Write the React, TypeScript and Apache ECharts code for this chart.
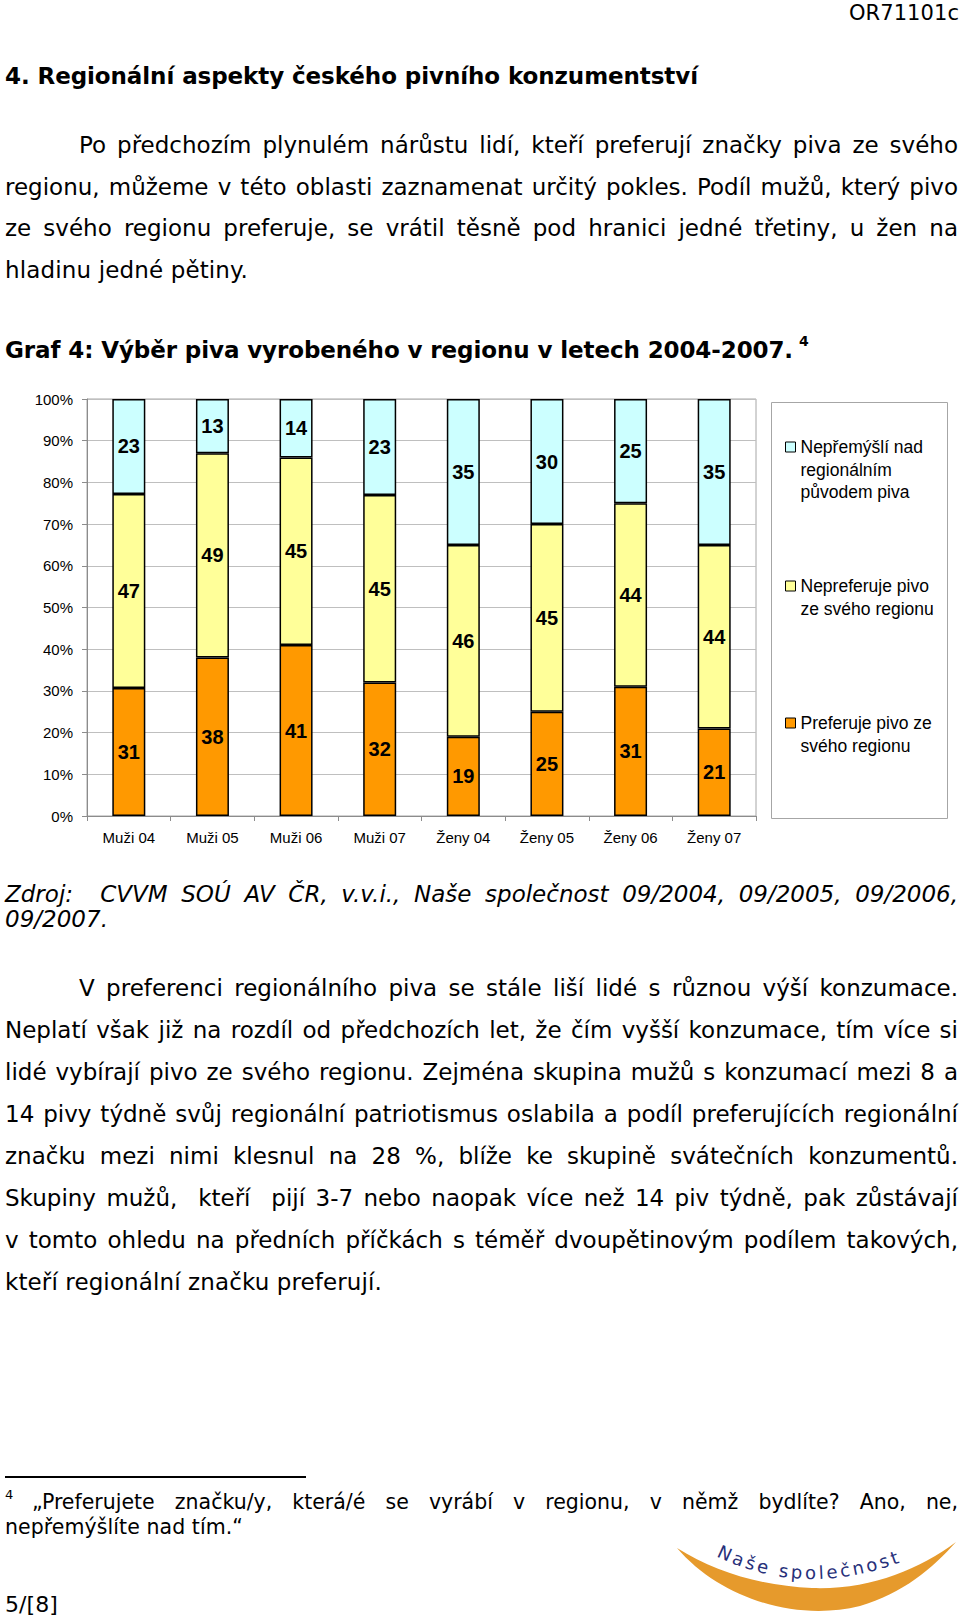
import React, { useEffect, useLayoutEffect, useRef } from "react";
import * as echarts from "echarts";

// ---------- data ----------
const categories = ["Muži 04", "Muži 05", "Muži 06", "Muži 07", "Ženy 04", "Ženy 05", "Ženy 06", "Ženy 07"];
const preferuje = [31, 38, 41, 32, 19, 25, 31, 21];
const nepreferuje = [47, 49, 45, 45, 46, 45, 44, 44];
const nepremysli = [23, 13, 14, 23, 35, 30, 25, 35];
const seriesNames = [
  "Preferuje pivo ze svého regionu",
  "Nepreferuje pivo ze svého regionu",
  "Nepřemýšlí nad regionálním původem piva",
];
const legendLines = [
  ["Preferuje pivo ze", "svého regionu"],
  ["Nepreferuje pivo", "ze svého regionu"],
  ["Nepřemýšlí nad", "regionálním", "původem piva"],
];
const seriesColors = ["#FF9900", "#FFFF99", "#CCFFFF"];
const yTickLabelSuffix = "%";

const BODY = "'DejaVu Sans', Verdana, sans-serif";
const ARIAL = "'Liberation Sans', Arial, sans-serif";

type LineProps = {
  x: number;
  y: number;
  w?: number;
  text: string;
  size?: number;
  lh?: number;
  bold?: boolean;
  italic?: boolean;
  mode?: "justify" | "fit" | "none";
  family?: string;
};

function Line({ x, y, w = 0, text, size = 23, lh = 30, bold, italic, mode = "none", family = BODY }: LineProps) {
  const ref = useRef<HTMLSpanElement>(null);
  useLayoutEffect(() => {
    const adjust = () => {
      const span = ref.current;
      if (!span) return;
      span.style.wordSpacing = "0px";
      span.style.letterSpacing = "0px";
      const natural = span.getBoundingClientRect().width;
      if (mode === "justify") {
        const spaces = (text.match(/ /g) || []).length;
        if (spaces) span.style.wordSpacing = (w - natural) / spaces + "px";
      } else if (mode === "fit") {
        span.style.letterSpacing = (w - natural) / text.length + "px";
      }
    };
    adjust();
    const fonts = (document as any).fonts;
    if (fonts && fonts.ready) fonts.ready.then(adjust);
  }, [text, w, mode, size]);
  return (
    <div
      style={{
        position: "absolute",
        left: x,
        top: y - lh / 2,
        height: lh,
        lineHeight: lh + "px",
        whiteSpace: "pre",
        fontSize: size,
        fontFamily: family,
        fontWeight: bold ? "bold" : "normal",
        fontStyle: italic ? "italic" : "normal",
        color: "#000",
      }}
    >
      <span ref={ref}>{text}</span>
    </div>
  );
}

function Chart() {
  const ref = useRef<HTMLDivElement>(null);
  useEffect(() => {
    if (!ref.current) return;
    const chart = echarts.init(ref.current, undefined, { renderer: "svg" });
    const raw = [preferuje, nepreferuje, nepremysli];
    const totals = categories.map((_, i) => preferuje[i] + nepreferuje[i] + nepremysli[i]);
    const lh = 22.5;
    // first-line y of each legend item (chart coords): orange, yellow, cyan
    const legendFirstLineY = [353, 216, 77];
    const legends = [0, 1, 2].map((k) => {
      const L = legendLines[k].length;
      const N = 2 * L - 1;
      return {
        data: [seriesNames[k]],
        left: 785,
        top: legendFirstLineY[k] - (N * lh) / 2,
        orient: "vertical",
        padding: 0,
        itemWidth: 10,
        itemHeight: 10,
        icon: "rect",
        selectedMode: false,
        itemStyle: { borderColor: "#000", borderWidth: 1 },
        textStyle: { fontSize: 17.5, lineHeight: lh, fontFamily: ARIAL, color: "#000" },
        formatter: () => "\n".repeat(L - 1) + legendLines[k].join("\n"),
      };
    });
    chart.setOption({
      animation: false,
      backgroundColor: "transparent",
      grid: {
        left: 87,
        top: 29,
        width: 669,
        height: 417,
        show: true,
        borderColor: "#A6A6A6",
        borderWidth: 1,
        backgroundColor: "transparent",
      },
      legend: legends,
      graphic: [
        {
          type: "rect",
          shape: { x: 771.5, y: 32.5, width: 176, height: 416 },
          style: { fill: "none", stroke: "#A6A6A6", lineWidth: 1 },
          silent: true,
        },
      ],
      xAxis: {
        type: "category",
        data: categories,
        axisLine: { lineStyle: { color: "#8C8C8C", width: 1 } },
        axisTick: { show: true, length: 5, lineStyle: { color: "#8C8C8C" } },
        axisLabel: { margin: 14, fontSize: 15, color: "#000", fontFamily: ARIAL },
      },
      yAxis: {
        type: "value",
        min: 0,
        max: 100,
        interval: 10,
        axisLine: { show: true, lineStyle: { color: "#8C8C8C", width: 1 } },
        axisTick: { show: true, length: 5, lineStyle: { color: "#8C8C8C" } },
        axisLabel: {
          margin: 14,
          fontSize: 15,
          color: "#000",
          fontFamily: ARIAL,
          formatter: (v: number) => v + yTickLabelSuffix,
        },
        splitLine: { lineStyle: { color: "#BFBFBF", width: 1 } },
      },
      series: [0, 1, 2].map((k) => ({
        name: seriesNames[k],
        type: "bar",
        stack: "total",
        barWidth: 33,
        data: raw[k].map((v, i) => (v / totals[i]) * 100),
        itemStyle: { color: seriesColors[k], borderColor: "#000", borderWidth: 1.5 },
        label: {
          show: true,
          position: "inside",
          formatter: (p: any) => String(raw[k][p.dataIndex]),
          fontSize: 20,
          fontWeight: "bold",
          fontFamily: ARIAL,
          color: "#000",
        },
        emphasis: { disabled: true },
      })),
    });
    return () => chart.dispose();
  }, []);
  return <div ref={ref} style={{ position: "absolute", left: 0, top: 370, width: 960, height: 490 }} />;
}

function Logo() {
  return (
    <svg
      width={290}
      height={108}
      viewBox="0 0 290 108"
      style={{ position: "absolute", left: 670, top: 1510 }}
    >
      <defs>
        <path id="logoArc" d="M46,46 Q142,94 256,42" fill="none" />
      </defs>
      <path
        d="M7,38 C50,88 125,112 190,96 C232,84 263,58 286,32 C248,60 200,80 142,78 C92,76 45,62 7,38 Z"
        fill="#E69A2C"
      />
      <text fontFamily="'DejaVu Sans', sans-serif" fontSize={18} fill="#27307A" letterSpacing={3}>
        <textPath href="#logoArc">Naše společnost</textPath>
      </text>
    </svg>
  );
}

export default function App() {
  const R = 958;
  const L = 5;
  const IND = 79;
  const p2 = (i: number) => 988 + 42.07 * i;
  return (
    <div
      style={{
        position: "absolute",
        left: 0,
        top: 0,
        width: 960,
        height: 1618,
        overflow: "hidden",
        background: "#fff",
        fontFamily: BODY,
      }}
    >
      <Line x={849} y={13} w={110} text="OR71101c" size={21} mode="fit" />
      <Line x={L} y={76} w={693} text="4. Regionální aspekty českého pivního konzumentství" size={23} bold mode="fit" />

      <Line x={IND} y={145} w={R - IND} text="Po předchozím plynulém nárůstu lidí, kteří preferují značky piva ze svého" mode="justify" />
      <Line x={L} y={186.7} w={R - L} text="regionu, můžeme v této oblasti zaznamenat určitý pokles. Podíl mužů, který pivo" mode="justify" />
      <Line x={L} y={228} w={R - L} text="ze svého regionu preferuje, se vrátil těsně pod hranici jedné třetiny, u žen na" mode="justify" />
      <Line x={L} y={270} w={243} text="hladinu jedné pětiny." mode="fit" />

      <Line x={L} y={349.5} w={788} text="Graf 4: Výběr piva vyrobeného v regionu v letech 2004-2007." size={23} bold mode="fit" />
      <Line x={799} y={341} text="4" size={14} lh={16} bold />

      <Chart />

      <Line x={L} y={894} w={R - L} text="Zdroj:  CVVM SOÚ AV ČR, v.v.i., Naše společnost 09/2004, 09/2005, 09/2006," italic mode="justify" />
      <Line x={L} y={919} w={103} text="09/2007." italic mode="fit" />

      <Line x={IND} y={p2(0)} w={R - IND} text="V preferenci regionálního piva se stále liší lidé s různou výší konzumace." mode="justify" />
      <Line x={L} y={p2(1)} w={R - L} text="Neplatí však již na rozdíl od předchozích let, že čím vyšší konzumace, tím více si" mode="justify" />
      <Line x={L} y={p2(2)} w={R - L} text="lidé vybírají pivo ze svého regionu. Zejména skupina mužů s konzumací mezi 8 a" mode="justify" />
      <Line x={L} y={p2(3)} w={R - L} text="14 pivy týdně svůj regionální patriotismus oslabila a podíl preferujících regionální" mode="justify" />
      <Line x={L} y={p2(4)} w={R - L} text="značku mezi nimi klesnul na 28 %, blíže ke skupině svátečních konzumentů." mode="justify" />
      <Line x={L} y={p2(5)} w={R - L} text="Skupiny mužů,  kteří  pijí 3-7 nebo naopak více než 14 piv týdně, pak zůstávají" mode="justify" />
      <Line x={L} y={p2(6)} w={R - L} text="v tomto ohledu na předních příčkách s téměř dvoupětinovým podílem takových," mode="justify" />
      <Line x={L} y={p2(7)} w={377} text="kteří regionální značku preferují." mode="fit" />

      <div style={{ position: "absolute", left: 5, top: 1476, width: 301, height: 1.5, background: "#000" }} />
      <Line x={L} y={1495} text="4" size={13} lh={16} />
      <Line x={32} y={1502} w={R - 32} text="„Preferujete značku/y, která/é se vyrábí v regionu, v němž bydlíte? Ano, ne," size={20.5} lh={26} mode="justify" />
      <Line x={L} y={1527} w={238} text="nepřemýšlíte nad tím.“" size={20.5} lh={26} mode="fit" />

      <Line x={L} y={1605} w={53} text="5/[8]" size={22} mode="fit" />
      <Logo />
    </div>
  );
}
